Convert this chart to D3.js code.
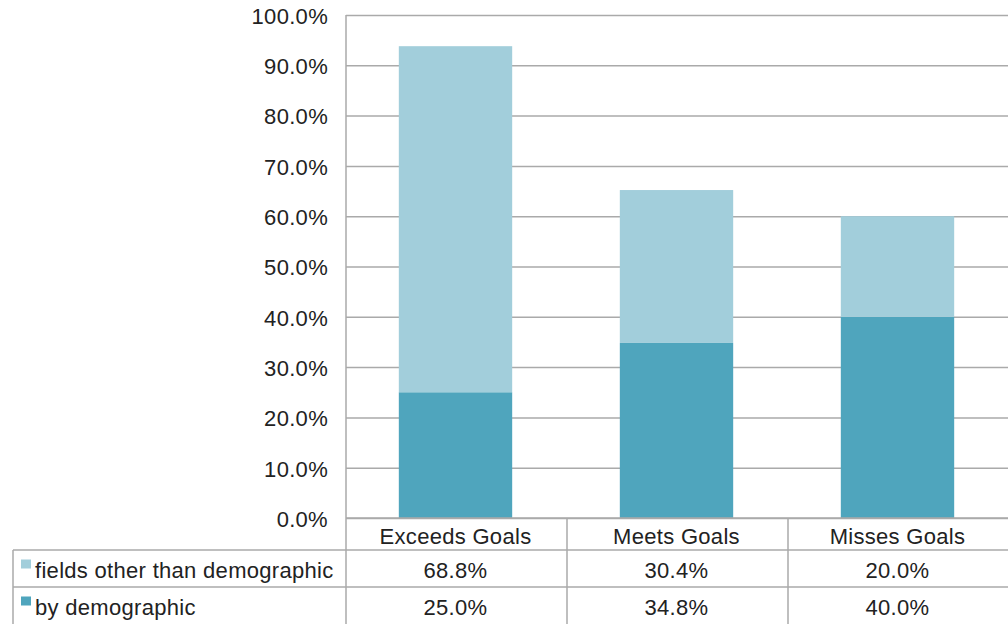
<!DOCTYPE html>
<html>
<head>
<meta charset="utf-8">
<script src="https://cdn.jsdelivr.net/npm/d3@7"></script>
<style>
  body { margin: 0; background: #fff; }
  svg text { font-family: "Liberation Sans", Arial, Helvetica, sans-serif; fill: #222; letter-spacing: 0.3px; }
</style>
</head>
<body>
<script>
var categories = ['Exceeds Goals', 'Meets Goals', 'Misses Goals'],
    seriesNames = ['fields other than demographic', 'by demographic'],
    byDemographic = [25.0, 34.8, 40.0],
    otherFields = [68.8, 30.4, 20.0],
    yTicks = [0, 10, 20, 30, 40, 50, 60, 70, 80, 90, 100],
    colors = ['#a2cedb', '#4fa5bd'];

var W = 1008, H = 624,
    plotLeft = 346, plotTop = 15, plotBottom = 518,
    rowH = [32, 37, 37],
    tableLeft = 13,
    fontsize = 22,
    gridColor = '#aaaaaa';

var svg = d3.select('body').append('svg')
        .attr('width', W)
        .attr('height', H),
    chart = svg.append('g');

var xScale = d3.scaleBand()
        .domain(categories)
        .range([plotLeft, 1009])
        .padding(0),
    vScale = d3.scaleLinear()
        .domain([0, 100])
        .range([plotBottom, plotTop]),
    yAxis = d3.axisLeft(vScale)
        .tickValues(yTicks)
        .tickSize(-(W - plotLeft))
        .tickPadding(18)
        .tickFormat(function(d) { return d.toFixed(1) + '%'; });

var yy = chart.append('g')
    .attr('class', 'y axis')
    .attr('transform', 'translate(' + plotLeft + ',0)')
    .call(yAxis);

yy.select('.domain').remove();
yy.selectAll('.tick line')
    .attr('stroke', gridColor)
    .attr('stroke-width', 1.5);
yy.selectAll('text')
    .attr('fill', '#222')
    .attr('dy', '.38em')
    .style('font-size', fontsize + 'px')
    .style('font-family', '"Liberation Sans", Arial, sans-serif');

// stacked bars
var stack = categories.map(function(c, i) {
    return [
        { cat: c, y0: 0, y1: byDemographic[i], color: colors[1] },
        { cat: c, y0: byDemographic[i], y1: byDemographic[i] + otherFields[i], color: colors[0] }
    ];
});

var barW = xScale.bandwidth() * 0.513;

chart.append('g').selectAll('g')
    .data(stack)
    .enter()
    .append('g')
    .selectAll('rect')
    .data(function(d) { return d; })
    .enter()
    .append('rect')
    .attr('x', function(d) { return xScale(d.cat) + (xScale.bandwidth() - barW) / 2 - 1; })
    .attr('width', barW)
    .attr('y', function(d) { return vScale(d.y1); })
    .attr('height', function(d) { return vScale(d.y0) - vScale(d.y1); })
    .attr('fill', function(d) { return d.color; });

// table
var table = chart.append('g').attr('stroke', gridColor).attr('stroke-width', 1.5),
    r1 = plotBottom + rowH[0],
    r2 = r1 + rowH[1],
    r3 = r2 + rowH[2];

table.append('line').attr('x1', plotLeft).attr('x2', plotLeft).attr('y1', plotTop).attr('y2', H);
table.append('line').attr('x1', plotLeft).attr('x2', W).attr('y1', plotBottom).attr('y2', plotBottom);
table.append('line').attr('x1', tableLeft).attr('x2', W).attr('y1', r1).attr('y2', r1);
table.append('line').attr('x1', tableLeft).attr('x2', W).attr('y1', r2).attr('y2', r2);
table.append('line').attr('x1', tableLeft).attr('x2', tableLeft).attr('y1', r1).attr('y2', H);
categories.slice(1).forEach(function(c) {
    table.append('line')
        .attr('x1', xScale(c)).attr('x2', xScale(c))
        .attr('y1', plotBottom).attr('y2', H);
});

var text = chart.append('g').style('font-size', fontsize + 'px');

text.selectAll('.cat')
    .data(categories)
    .enter()
    .append('text')
    .attr('class', 'cat')
    .attr('x', function(d) { return xScale(d) + xScale.bandwidth() / 2 - 1; })
    .attr('y', (plotBottom + r1) / 2)
    .attr('dy', '.45em')
    .style('text-anchor', 'middle')
    .text(function(d) { return d; });

var rows = [
    { name: seriesNames[0], values: otherFields, color: colors[0], y: (r1 + r2) / 2 },
    { name: seriesNames[1], values: byDemographic, color: colors[1], y: (r2 + r3) / 2 }
];

rows.forEach(function(row) {
    text.append('rect')
        .attr('x', 21)
        .attr('y', row.y - 9)
        .attr('width', 10)
        .attr('height', 9)
        .attr('fill', row.color);
    text.append('text')
        .attr('x', 35)
        .attr('y', row.y)
        .attr('dy', '.45em')
        .text(row.name);
    text.selectAll(null)
        .data(row.values)
        .enter()
        .append('text')
        .attr('x', function(d, i) { return xScale(categories[i]) + xScale.bandwidth() / 2 - 1; })
        .attr('y', row.y)
        .attr('dy', '.45em')
        .style('text-anchor', 'middle')
        .text(function(d) { return d.toFixed(1) + '%'; });
});
</script>
</body>
</html>
